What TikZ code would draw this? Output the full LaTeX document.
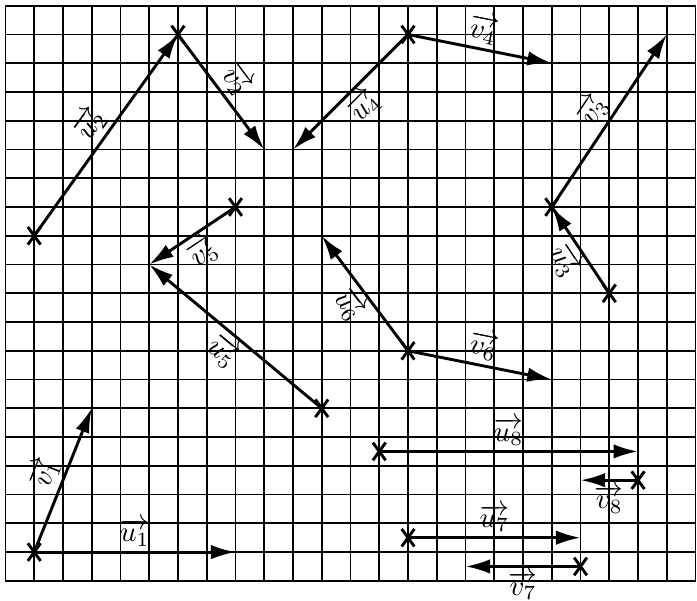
\documentclass[tikz,border=0pt]{standalone}
\usepackage{amsmath}
\usetikzlibrary{arrows.meta, shapes.misc, positioning}
\tikzset{
    x=0.35cm, y=0.35cm, % one square of the grid
    gridline/.style={line width=0.6pt}, % the squares
    vec/.style={line width=1pt, -{Latex[length=8.5pt,width=5pt]}}, % every vector
    crossmark/.style={cross out, draw, line width=1pt, inner sep=0pt, minimum width=1.2mm, minimum height=1.8mm}, % start points
    lab/.style={sloped, inner sep=1.5pt}, % names of the vectors
}

\begin{document}
\begin{tikzpicture}
    \useasboundingbox (-0.19,-0.70) rectangle (24.05,20.2);
    \draw[gridline, step=1] (0,0) grid (24,20);

    % start points
    \node[crossmark] (s1) at (1,1) {};
    \node[crossmark] (s2) at (1,12) {};
    \node[crossmark] (s3) at (6,19) {};
    \node[crossmark] (s4) at (14,19) {};
    \node[crossmark] (s5) at (21,10) {};
    \node[crossmark] (s6) at (19,13) {};
    \node[crossmark] (s7) at (8,13) {};
    \node[crossmark] (s8) at (11,6) {};
    \node[crossmark] (s9) at (14,8) {};
    \node[crossmark] (s10) at (13,4.5) {};
    \node[crossmark] (s11) at (22,3.5) {};
    \node[crossmark] (s12) at (14,1.5) {};
    \node[crossmark] (s13) at (20,0.5) {};

    % end points
    \coordinate (tu1) at (8,1);
    \coordinate (tv1) at (3,6);
    \coordinate (tv2) at (9,15);
    \coordinate (tu4) at (10,15);
    \coordinate (tv4) at (19,18);
    \coordinate (tv3) at (23,19);
    \coordinate (tu5) at (5,11);
    \coordinate (tu6) at (11,12);
    \coordinate (tv6) at (19,7);
    \coordinate (tu8) at (22,4.5);
    \coordinate (tv8) at (20,3.5);
    \coordinate (tu7) at (20,1.5);
    \coordinate (tv7) at (16,0.5);

    \draw[vec] (s1.center) -- node[lab, above]{$\overrightarrow{u_1}$} (tu1);
    \draw[vec] (s1.center) -- node[lab, above]{$\overrightarrow{v_1}$} (tv1);
    \draw[vec] (s2.center) -- node[lab, above]{$\overrightarrow{u_2}$} (s3.center);
    \draw[vec] (s3.center) -- node[lab, above]{$\overrightarrow{v_2}$} (tv2);
    \draw[vec] (s4.center) -- node[lab, below]{$\overrightarrow{u_4}$} (tu4);
    \draw[vec] (s4.center) -- node[lab, above]{$\overrightarrow{v_4}$} (tv4);
    \draw[vec] (s5.center) -- node[lab, below]{$\overrightarrow{u_3}$} (s6.center);
    \draw[vec] (s6.center) -- node[lab, above]{$\overrightarrow{v_3}$} (tv3);
    \draw[vec] (s7.center) -- node[lab, below]{$\overrightarrow{v_5}$} (tu5);
    \draw[vec] (s8.center) -- node[lab, below]{$\overrightarrow{u_5}$} (tu5);
    \draw[vec] (s9.center) -- node[lab, below]{$\overrightarrow{u_6}$} (tu6);
    \draw[vec] (s9.center) -- node[lab, above]{$\overrightarrow{v_6}$} (tv6);
    \draw[vec] (s10.center) -- node[lab, above]{$\overrightarrow{u_8}$} (tu8);
    \draw[vec] (s11.center) -- node[lab, below]{$\overrightarrow{v_8}$} (tv8);
    \draw[vec] (s12.center) -- node[lab, above]{$\overrightarrow{u_7}$} (tu7);
    \draw[vec] (s13.center) -- node[lab, below]{$\overrightarrow{v_7}$} (tv7);
\end{tikzpicture}
\end{document}
